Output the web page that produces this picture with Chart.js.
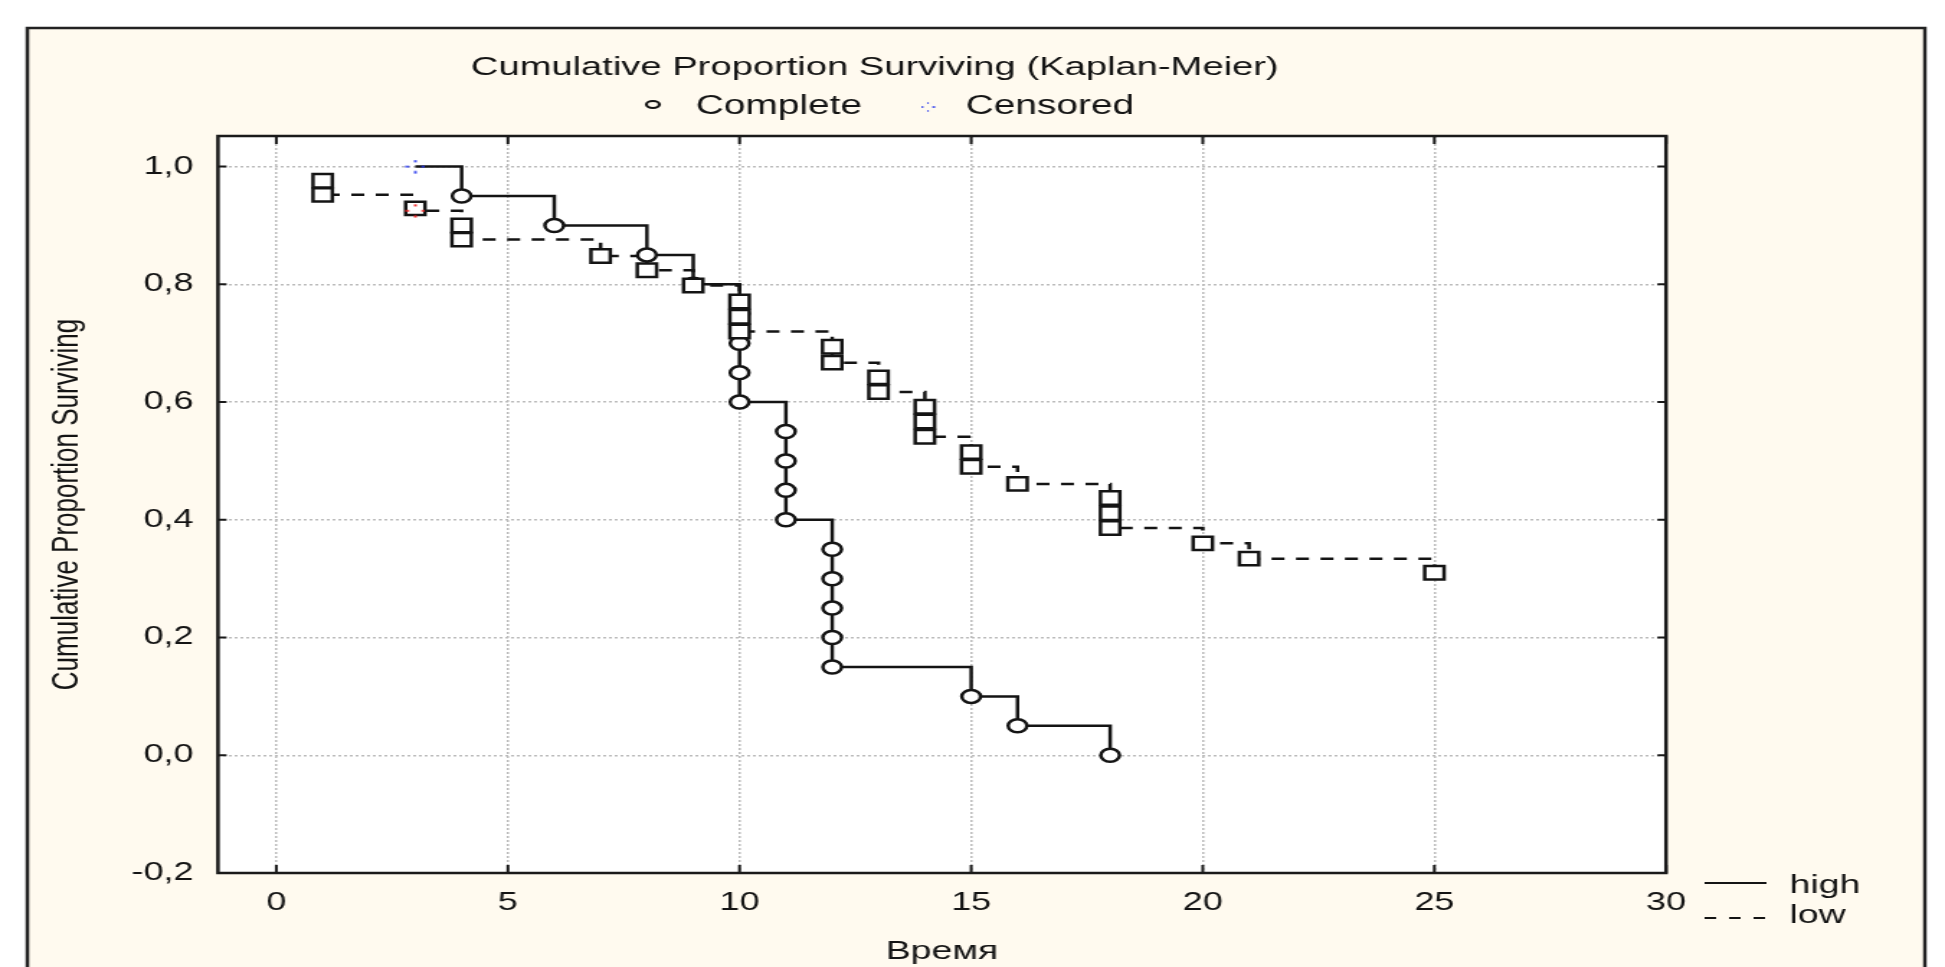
<!DOCTYPE html>
<html>
<head>
<meta charset="utf-8">
<script src="https://cdn.jsdelivr.net/npm/chart.js@4.4.1/dist/chart.umd.min.js"></script>
<style>
  html, body { margin: 0; padding: 0; background: #fff; overflow: hidden; }
  /* the original picture is stretched sideways, so the whole canvas is too */
  #wrap { width: 1351px; height: 967px; transform: scaleX(1.43968); transform-origin: 0 0; }
  canvas { display: block; }
</style>
</head>
<body>
<div id="wrap"><canvas id="km" width="1351" height="967" style="width:1351px;height:967px"></canvas></div>
<script>
// axis ticks
const xTicks = [0, 5, 10, 15, 20, 25, 30];
const yTicks = [-0.2, 0, 0.2, 0.4, 0.6, 0.8, 1.0];

// group "high" - complete observations
const highTimes = [4, 6, 8, 9, 10, 10, 10, 10, 11, 11, 11, 11, 12, 12, 12, 12, 12, 15, 16, 18];
const highSurv = [0.95, 0.90, 0.85, 0.80, 0.75, 0.70, 0.65, 0.60, 0.55, 0.50, 0.45, 0.40, 0.35, 0.30, 0.25, 0.20, 0.15, 0.10, 0.05, 0.0];
// group "high" - censored
const highCensTimes = [3];
const highCensSurv = [1.0];

// group "low" - complete observations
const lowTimes = [1, 1, 3, 4, 4, 7, 8, 9, 10, 10, 10, 12, 12, 13, 13, 14, 14, 14, 15, 15, 16, 18, 18, 18, 20, 21, 25];
const lowSurv = [0.976, 0.952, 0.929, 0.90, 0.876, 0.848, 0.824, 0.798, 0.771, 0.745, 0.72, 0.694, 0.667, 0.642, 0.617, 0.592, 0.567, 0.541, 0.515, 0.49, 0.461, 0.437, 0.411, 0.386, 0.36, 0.334, 0.31];
// group "low" - censored
const lowCensTimes = [3];
const lowCensSurv = [0.925];

const groupNames = ['high', 'low'];
const markerNames = ['Complete', 'Censored'];
const chartTitle = 'Cumulative Proportion Surviving (Kaplan-Meier)';
const xTitle = 'Время';
const yTitle = 'Cumulative Proportion Surviving';

const FONT = '"Liberation Sans", Arial, sans-serif';
const INK = '#141414';

function toPoints(times, surv) {
    return times.map((t, i) => ({ x: t, y: surv[i] }));
}

// step curve goes through censored and complete points, in time order
function curve(times, surv, cTimes, cSurv) {
    return toPoints(cTimes, cSurv).concat(toPoints(times, surv))
        .sort((a, b) => a.x - b.x || b.y - a.y);
}

// small ring of dots used by Statistica for censored cases
function censorMark(color, size) {
    const c = document.createElement('canvas');
    c.width = size; c.height = size;
    const g = c.getContext('2d');
    g.fillStyle = color;
    const m = size / 2, r = size / 2 - 1.5;
    [[0, -r], [-r, 0], [0, r], [r, 0]].forEach(([dx, dy]) => g.fillRect(m + dx - 1, m + dy - 1, 2, 2));
    return c;
}

const blueMark = censorMark('#2233ee', 14);
const redMark = censorMark('#ee2222', 14);

const frameDecor = {
    id: 'frameDecor',
    beforeDraw(chart) {
        const { ctx, chartArea: a } = chart;
        ctx.save();
        ctx.fillStyle = '#fffaef';
        ctx.fillRect(19, 28, 1318, 990);
        ctx.lineWidth = 2.5;
        ctx.strokeStyle = '#222';
        ctx.strokeRect(19, 28, 1318, 990);
        ctx.fillStyle = '#fff';
        ctx.fillRect(a.left, a.top, a.right - a.left, a.bottom - a.top);
        ctx.restore();
    },
    beforeDatasetsDraw(chart) {
        const { ctx, chartArea: a, scales } = chart;
        ctx.save();
        ctx.strokeStyle = '#1a1a1a';
        ctx.lineWidth = 2.5;
        ctx.strokeRect(a.left, a.top, a.right - a.left, a.bottom - a.top);
        ctx.lineWidth = 2;
        ctx.beginPath();
        xTicks.forEach(v => {
            const px = scales.x.getPixelForValue(v);
            ctx.moveTo(px, a.bottom); ctx.lineTo(px, a.bottom - 8);
            ctx.moveTo(px, a.top); ctx.lineTo(px, a.top + 8);
        });
        yTicks.forEach(v => {
            const py = scales.y.getPixelForValue(v);
            ctx.moveTo(a.left, py); ctx.lineTo(a.left + 6, py);
            ctx.moveTo(a.right, py); ctx.lineTo(a.right - 6, py);
        });
        ctx.stroke();
        ctx.restore();
    },
    afterDraw(chart) {
        const ctx = chart.ctx;
        ctx.save();
        ctx.fillStyle = INK;
        ctx.strokeStyle = INK;
        ctx.textBaseline = 'alphabetic';

        // title
        ctx.font = '26.5px ' + FONT;
        ctx.textAlign = 'center';
        ctx.fillText(chartTitle, 607.6, 75);

        // marker legend
        ctx.font = '27px ' + FONT;
        ctx.textAlign = 'left';
        ctx.lineWidth = 2.2;
        ctx.beginPath();
        ctx.ellipse(453.5, 104.5, 4.5, 3.5, 0, 0, Math.PI * 2);
        ctx.stroke();
        ctx.fillText(markerNames[0], 483.3, 114);
        ctx.drawImage(blueMark, 639.5, 102, 10, 10);
        ctx.fillText(markerNames[1], 670.8, 114);

        // group legend
        ctx.font = '26px ' + FONT;
        ctx.beginPath();
        ctx.moveTo(1184, 883); ctx.lineTo(1227, 883);
        ctx.stroke();
        ctx.setLineDash([8, 9]);
        ctx.beginPath();
        ctx.moveTo(1184, 918); ctx.lineTo(1227, 918);
        ctx.stroke();
        ctx.setLineDash([]);
        ctx.fillText(groupNames[0], 1243, 893);
        ctx.fillText(groupNames[1], 1243, 923);
        ctx.restore();
    }
};

const ctx = document.getElementById('km').getContext('2d');

new Chart(ctx, {
    type: 'scatter',
    data: {
        datasets: [
            {
                label: 'censored high',
                data: toPoints(highCensTimes, highCensSurv),
                pointStyle: blueMark,
                order: 0
            },
            {
                label: 'censored low',
                data: toPoints(lowCensTimes, lowCensSurv),
                pointStyle: redMark,
                order: 1
            },
            {
                label: groupNames[1] + ' complete',
                data: toPoints(lowTimes, lowSurv),
                pointStyle: 'rect',
                pointRadius: 9.5,
                pointBackgroundColor: '#fff',
                pointBorderColor: INK,
                pointBorderWidth: 2.5,
                order: 2
            },
            {
                label: groupNames[0] + ' complete',
                data: toPoints(highTimes, highSurv),
                pointStyle: 'circle',
                pointRadius: 6.5,
                pointBackgroundColor: '#fff',
                pointBorderColor: INK,
                pointBorderWidth: 2.5,
                order: 3
            },
            {
                label: groupNames[1],
                data: curve(lowTimes, lowSurv, lowCensTimes, lowCensSurv),
                showLine: true,
                stepped: true,
                borderColor: INK,
                borderWidth: 2.5,
                borderDash: [9, 8],
                pointRadius: 0,
                order: 4
            },
            {
                label: groupNames[0],
                data: curve(highTimes, highSurv, highCensTimes, highCensSurv),
                showLine: true,
                stepped: true,
                borderColor: INK,
                borderWidth: 2.5,
                pointRadius: 0,
                order: 5
            }
        ]
    },
    options: {
        responsive: false,
        animation: false,
        devicePixelRatio: 1,
        layout: {
            padding: { left: 0, right: 193.8, top: 136, bottom: 0 }
        },
        plugins: {
            legend: { display: false },
            tooltip: { enabled: false }
        },
        scales: {
            x: {
                type: 'linear',
                min: -1.26,
                max: 30,
                afterBuildTicks: scale => { scale.ticks = xTicks.map(v => ({ value: v })); },
                afterFit: scale => { scale.height = 94; },
                grid: { color: '#bcbcbc', lineWidth: 1.5, drawTicks: false },
                border: { display: false, dash: [2, 2] },
                ticks: {
                    color: INK,
                    font: { family: FONT, size: 25 },
                    padding: 15,
                    maxRotation: 0,
                    autoSkip: false,
                    callback: v => String(v)
                },
                title: {
                    display: true,
                    text: xTitle,
                    color: INK,
                    font: { family: FONT, size: 26 },
                    padding: { top: 0, bottom: 0 }
                }
            },
            y: {
                type: 'linear',
                min: -0.2,
                max: 1.052,
                afterBuildTicks: scale => { scale.ticks = yTicks.map(v => ({ value: v })); },
                afterFit: scale => { scale.width = 151.4; },
                grid: { color: '#bcbcbc', lineWidth: 1.5, drawTicks: false },
                border: { display: false, dash: [2, 2] },
                ticks: {
                    color: INK,
                    font: { family: FONT, size: 25 },
                    padding: 17,
                    callback: v => v.toFixed(1).replace('.', ',')
                },
                title: {
                    display: true,
                    text: yTitle,
                    color: INK,
                    font: { family: FONT, size: 26 },
                    padding: { top: 31, bottom: 0 }
                }
            }
        }
    },
    plugins: [frameDecor]
});
</script>
</body>
</html>
